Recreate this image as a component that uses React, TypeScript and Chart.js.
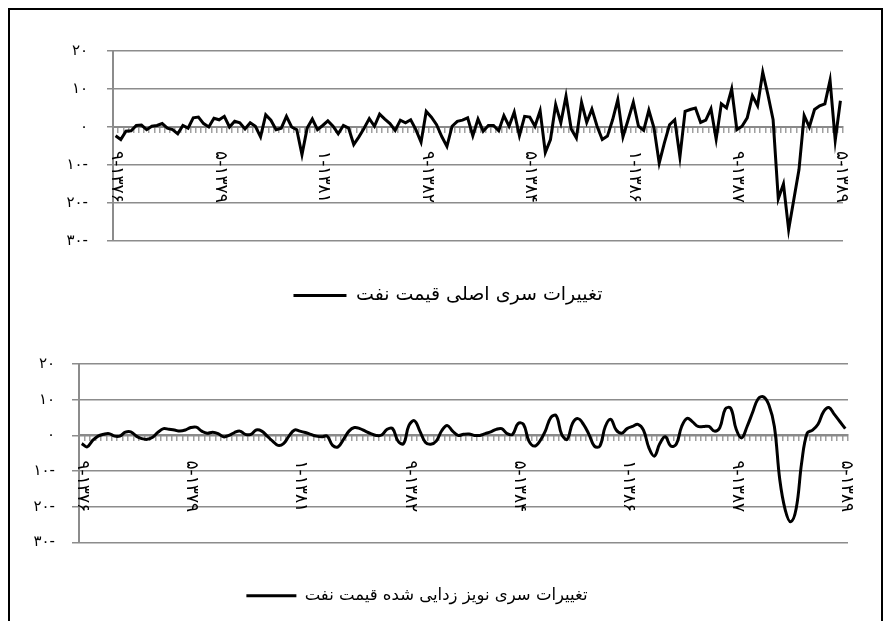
import React, { useEffect, useRef } from 'react';
import { Chart, registerables } from 'chart.js';

Chart.register(...registerables);

// ---------- data ----------
const xTickLabels = ['۹-۱۳۷۶', '۵-۱۳۷۹', '۱-۱۳۸۱', '۹-۱۳۸۲', '۵-۱۳۸۴', '۱-۱۳۸۶', '۹-۱۳۸۷', '۵-۱۳۸۹'];
const labelEvery = 20;
const yTickValues = [20, 10, 0, -10, -20, -30];
const yTickLabels = ['۲۰', '۱۰', '۰', '۱۰-', '۲۰-', '۳۰-'];

const originalLabel = 'تغییرات سری اصلی قیمت نفت';
const denoisedLabel = 'تغییرات سری نویز زدایی شده قیمت نفت';

const originalSeries = [
  -2.3, -3.3, -1.1, -1.0, 0.4, 0.5, -0.7, 0.2, 0.4, 0.9,
  -0.3, -0.7, -1.8, 0.4, -0.3, 2.4, 2.6, 0.9, 0, 2.3,
  1.9, 2.8, 0, 1.5, 1.1, -0.5, 1.1, 0.2, -2.6, 3.2,
  1.8, -0.7, -0.3, 2.8, 0, -0.7, -7.3, -0.3, 2.1, -0.7,
  0.4, 1.6, 0.2, -1.8, 0.4, -0.3, -4.6, -2.6, -0.3, 2.2,
  0.2, 3.4, 2.1, 0.9, -0.9, 1.8, 1.1, 1.9, -0.7, -4.0,
  4.1, 2.6, 0.6, -2.5, -5.1, 0.2, 1.5, 1.8, 2.4, -2.3,
  2.1, -1.1, 0.4, 0.4, -1.0, 3.0, 0.2, 3.9, -2.3, 2.8,
  2.6, 0.2, 4.3, -6.7, -3.3, 5.9, 1.1, 8.1, -0.5, -2.9,
  6.5, 1.2, 4.7, 0.2, -3.3, -2.4, 1.9, 7.2, -2.6, 1.9,
  6.5, 0.2, -0.9, 4.4, -0.3, -9.5, -4.2, 0.6, 1.9, -7.9,
  4.1, 4.6, 5.0, 1.2, 1.8, 4.8, -3.2, 6.1, 5.0, 10.0,
  -0.7, 0.2, 2.4, 8.2, 5.6, 14.4, 8.5, 1.9, -18.9, -15.0,
  -27.0, -19.1, -11.2, 3.0, 0, 4.6, 5.6, 6.1, 12.3, -3.5,
  6.9,
];

const denoisedSeries = [
  -2.3, -3.2, -1.4, -0.2, 0.3, 0.5, -0.2, -0.2, 0.9, 1.0,
  -0.2, -0.9, -1.1, -0.5, 0.9, 1.9, 1.7, 1.5, 1.2, 1.5,
  2.2, 2.3, 1.2, 0.6, 0.9, 0.5, -0.4, 0, 0.8, 1.2,
  0.3, 0.3, 1.5, 1.2, -0.2, -1.6, -2.8, -2.3, -0.2, 1.5,
  1.2, 0.8, 0.3, -0.2, -0.4, -0.2, -2.8, -3.2, -1.1, 1.2,
  2.2, 1.9, 1.2, 0.5, 0, 0.1, 1.7, 1.9, -1.6, -2.3,
  2.8, 4.1, 1.2, -1.9, -2.5, -1.6, 1.3, 2.8, 1.2, 0,
  0.3, 0.4, 0, 0, 0.5, 1.0, 1.7, 1.9, 0.5, 0.3,
  3.3, 3.1, -1.6, -3.0, -1.6, 1.2, 5.0, 5.5, 0.3, -1.1,
  3.4, 4.7, 3.1, 0.3, -3.0, -3.0, 2.5, 4.5, 1.5, 0.6,
  1.9, 2.5, 3.1, 1.5, -3.5, -5.8, -2.3, -0.4, -3.0, -2.5,
  2.5, 4.8, 3.8, 2.5, 2.5, 2.5, 1.2, 2.2, 7.4, 7.6,
  1.7, -0.7, 2.5, 6.4, 10.2, 10.8, 8.5, 2.5, -12.5, -20.9,
  -24.2, -20.5, -7.7, 0.6, 1.5, 3.1, 6.6, 7.8, 5.9, 3.9,
  1.9,
];

const categories = originalSeries.map((_, i) => String(i));

const FONT = '"DejaVu Sans", sans-serif';

const xLabelPlugin = {
  id: 'xLabels',
  beforeDatasetsDraw(chart: any, _args: any, opts: any) {
    const { ctx, scales } = chart;
    const x = scales.x;
    const y = scales.y;
    const y0 = y.getPixelForValue(0);
    ctx.save();
    ctx.fillStyle = '#000';
    ctx.font = `${opts.size || 13}px ${FONT}`;
    ctx.textAlign = 'left';
    ctx.textBaseline = 'middle';
    (ctx as any).direction = 'ltr';
    xTickLabels.forEach((lab, k) => {
      const px = x.getPixelForValue(k * labelEvery);
      ctx.save();
      ctx.translate(px + (opts.dx || 0), y0 + (opts.offset || 24));
      ctx.rotate(Math.PI / 2);
      ctx.fillText(lab, 0, 0);
      ctx.restore();
    });
    ctx.restore();
  },
};

type Cfg = {
  data: number[];
  label: string;
  tension: number;
  yAxisWidth: number;
  yTickPadding: number;
  yTickLength: number;
  padding: { left: number; right: number; top: number; bottom: number };
  legendPadding: number;
  legendLine: number;
  legendFont: number;
  labelOffset: number;
};

function LineChart({ cfg, width, height, style }: { cfg: Cfg; width: number; height: number; style: any }) {
  const ref = useRef<HTMLCanvasElement | null>(null);
  useEffect(() => {
    if (!ref.current) return;
    const chart = new Chart(ref.current, {
      type: 'line',
      data: {
        labels: categories,
        datasets: [
          {
            label: cfg.label,
            data: cfg.data,
            borderColor: '#000',
            backgroundColor: '#000',
            borderWidth: 3,
            pointRadius: 0,
            pointHoverRadius: 0,
            tension: cfg.tension,
            fill: false,
            borderJoinStyle: 'miter',
          } as any,
        ],
      },
      options: {
        responsive: false,
        maintainAspectRatio: false,
        animation: false,
        devicePixelRatio: 1,
        layout: { padding: cfg.padding },
        plugins: {
          tooltip: { enabled: false },
          legend: {
            position: 'bottom',
            labels: {
              usePointStyle: true,
              pointStyle: 'line',
              pointStyleWidth: cfg.legendLine,
              padding: cfg.legendPadding,
              color: '#000',
              font: { family: FONT, size: cfg.legendFont },
            },
          },
          xLabels: { offset: cfg.labelOffset, size: 17, dx: 1 },
        } as any,
        scales: {
          x: {
            type: 'category',
            offset: true,
            position: { y: 0 } as any,
            afterFit: (s: any) => {
              s.height = 0;
            },
            ticks: { display: false, autoSkip: false },
            grid: {
              drawOnChartArea: false,
              drawTicks: true,
              tickLength: 5,
              color: '#a0a0a0',
              lineWidth: 1.5,
              offset: true,
            },
            border: { display: true, color: '#8a8a8a', width: 2 },
          },
          y: {
            min: -30,
            max: 20,
            afterFit: (s: any) => {
              s.width = cfg.yAxisWidth;
            },
            afterBuildTicks: (s: any) => {
              s.ticks = yTickValues.map((v) => ({ value: v }));
            },
            ticks: {
              color: '#000',
              padding: cfg.yTickPadding,
              font: { family: FONT, size: 15 },
              callback: (v: any) => {
                const i = yTickValues.indexOf(Number(v));
                return i >= 0 ? yTickLabels[i] : '';
              },
            },
            grid: {
              color: '#8c8c8c',
              lineWidth: 1.5,
              drawTicks: true,
              tickLength: cfg.yTickLength,
            },
            border: { display: true, color: '#8c8c8c', width: 2 },
          },
        },
      },
      plugins: [xLabelPlugin],
    });
    return () => chart.destroy();
  }, []);
  return <canvas ref={ref} width={width} height={height} style={{ position: 'absolute', display: 'block', width, height, ...style }} />;
}

const chart1: Cfg = {
  data: originalSeries,
  label: originalLabel,
  tension: 0,
  yAxisWidth: 60,
  yTickPadding: 19,
  yTickLength: 6,
  padding: { left: 43, right: 37, top: 41, bottom: 0 },
  legendPadding: 45,
  legendLine: 53,
  legendFont: 19,
  labelOffset: 24,
};

const chart2: Cfg = {
  data: denoisedSeries,
  label: denoisedLabel,
  tension: 0.4,
  yAxisWidth: 93,
  yTickPadding: 17,
  yTickLength: 7,
  padding: { left: 6, right: 22, top: 34, bottom: 0 },
  legendPadding: 45,
  legendLine: 50,
  legendFont: 16.5,
  labelOffset: 25,
};

export default function App() {
  return (
    <div style={{ position: 'relative', width: 875, height: 613, overflow: 'hidden', background: '#fff' }}>
      <div
        style={{
          position: 'absolute',
          left: 0,
          top: 0,
          width: 875,
          height: 720,
          boxSizing: 'border-box',
          border: '2px solid #000',
        }}
      />
      <LineChart cfg={chart1} width={870} height={305} style={{ left: 2, top: 2 }} />
      <LineChart cfg={chart2} width={890} height={284} style={{ left: -28, top: 322 }} />
    </div>
  );
}
